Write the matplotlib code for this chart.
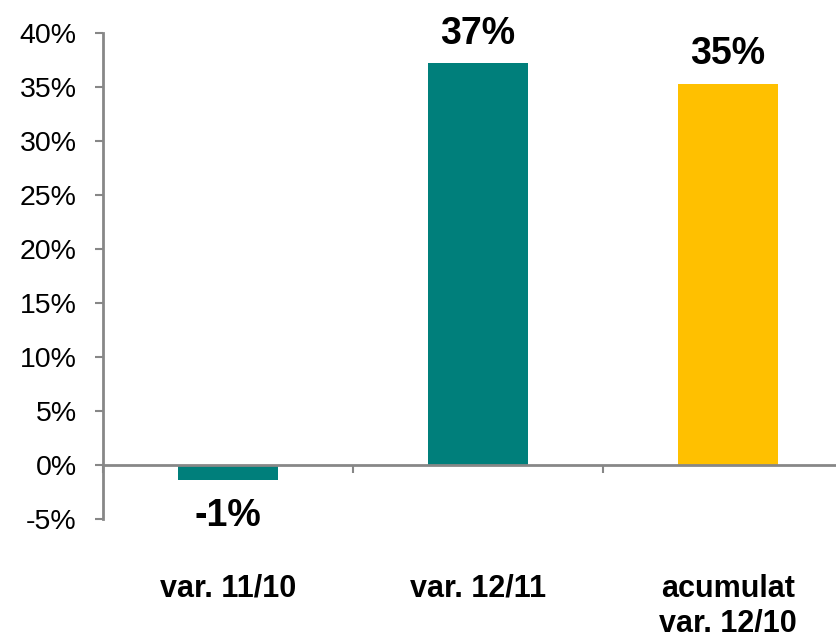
import matplotlib
matplotlib.use('Agg')
import matplotlib.pyplot as plt
from matplotlib.ticker import FuncFormatter, MultipleLocator, FixedLocator

plt.rcParams['font.family'] = ['Liberation Sans', 'DejaVu Sans']

categories = ['var. 11/10', 'var. 12/11', 'acumulat\nvar. 12/10']
values = [-1.4, 37.2, 35.3]
value_labels = ['-1%', '37%', '35%']
bar_colors = ['#007F7B', '#007F7B', '#FFC000']

axis_gray = '#878787'

fig = plt.figure(figsize=(8.36, 6.32), dpi=100)
ax = fig.add_axes([103/836, (632-519.3)/632, 750/836, (519.3-33)/632])

x = list(range(len(categories)))
bars = ax.bar(x, values, width=0.4, color=bar_colors, zorder=2)

ax.set_xlim(-0.5, 2.5)
ax.set_ylim(-5, 40)

# y axis
ax.yaxis.set_major_locator(MultipleLocator(5))
ax.yaxis.set_major_formatter(FuncFormatter(lambda v, p: f'{v:.0f}%'))
ax.tick_params(axis='y', direction='out', length=6, width=1.5, color=axis_gray,
               labelsize=20.5, pad=13)

# x axis sits on zero
ax.spines['bottom'].set_position(('data', 0))
ax.spines['bottom'].set_color(axis_gray)
ax.spines['bottom'].set_linewidth(2)
ax.spines['left'].set_color(axis_gray)
ax.spines['left'].set_linewidth(2)
ax.spines['top'].set_visible(False)
ax.spines['right'].set_visible(False)

ax.set_xticks(x)
ax.set_xticklabels(categories, fontsize=22, fontweight='bold', linespacing=1.2)
ax.tick_params(axis='x', which='major', length=0, pad=78)
ax.xaxis.set_minor_locator(FixedLocator([-0.5, 0.5, 1.5]))
ax.tick_params(axis='x', which='minor', direction='out', length=6, width=1.5,
               color=axis_gray)

for xi, v, lab in zip(x, values, value_labels):
    if v >= 0:
        ax.annotate(lab, (xi, v), xytext=(0, 14), textcoords='offset points',
                    ha='center', va='baseline', fontsize=27, fontweight='bold')
    else:
        ax.annotate(lab, (xi, v), xytext=(0, -13), textcoords='offset points',
                    ha='center', va='top', fontsize=27, fontweight='bold')

fig.savefig('out.png', dpi=100)
